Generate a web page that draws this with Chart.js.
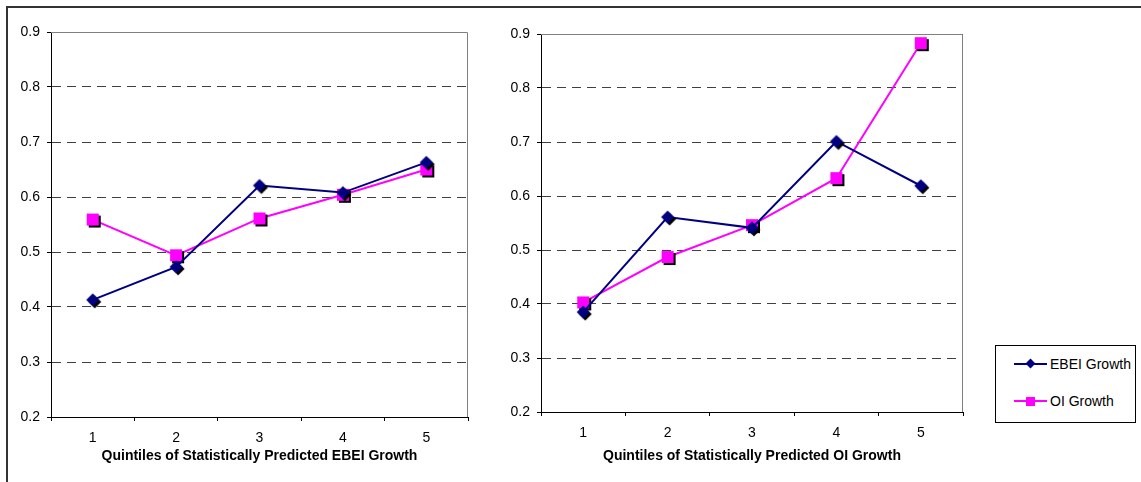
<!DOCTYPE html>
<html>
<head>
<meta charset="utf-8">
<script src="https://cdn.jsdelivr.net/npm/chart.js@4.4.1/dist/chart.umd.min.js"></script>
<style>
  html, body { margin: 0; padding: 0; background: #fff; }
  #wrap { position: relative; width: 1141px; height: 482px; overflow: hidden; font-family: "Liberation Sans", Arial, sans-serif; }
  #frame { position: absolute; left: 6px; top: 6px; width: 1200px; height: 600px; border-top: 2px solid #333; border-left: 2px solid #333; }
  #left { position: absolute; left: 0; top: 0; }
  #right { position: absolute; left: 480px; top: 0; }
  #legend { position: absolute; left: 995px; top: 345px; width: 141px; height: 78px; border: 1px solid #000; box-sizing: border-box; background: #fff; font-size: 14px; color: #000; }
  .item { position: absolute; left: 18px; width: 120px; height: 16px; }
  .line { position: absolute; left: 0; top: 7px; width: 33px; height: 2px; }
  .mk { position: absolute; }
  .txt { position: absolute; left: 36px; top: 0; line-height: 16px; white-space: nowrap; }
</style>
</head>
<body>
<div id="wrap">
  <div id="frame"></div>
  <canvas id="left" width="480" height="482"></canvas>
  <canvas id="right" width="500" height="482"></canvas>
  <div id="legend"></div>
</div>
<script>
// data
var quintiles = ['1', '2', '3', '4', '5'];
var seriesNames = ['EBEI Growth', 'OI Growth'];
// left panel: quintiles of predicted EBEI growth
var ebeiPanelEbei = [0.413, 0.473, 0.621, 0.608, 0.663];
var ebeiPanelOi = [0.559, 0.494, 0.561, 0.604, 0.650];
// right panel: quintiles of predicted OI growth
var oiPanelEbei = [0.385, 0.561, 0.541, 0.701, 0.619];
var oiPanelOi = [0.403, 0.487, 0.546, 0.633, 0.883];
var yMin = 0.2, yMax = 0.9, yStep = 0.1;

var navy = '#000080';
var magenta = '#FF00FF';

Chart.defaults.font.family = '"Liberation Sans", Arial, sans-serif';
Chart.defaults.color = '#000';

// marker with a black drop shadow, drawn once into a small canvas
function marker(shape, color) {
    var c = document.createElement('canvas');
    c.width = 20; c.height = 20;
    var g = c.getContext('2d');
    function draw(cx, cy, fill) {
        g.fillStyle = fill;
        if (shape === 'square') {
            g.fillRect(cx - 6, cy - 6, 12, 12);
        } else {
            g.beginPath();
            g.moveTo(cx, cy - 6.5);
            g.lineTo(cx + 6.5, cy);
            g.lineTo(cx, cy + 6.5);
            g.lineTo(cx - 6.5, cy);
            g.closePath();
            g.fill();
        }
    }
    draw(12, 12, '#000');
    draw(10, 10, color);
    return c;
}
var diamondImg = marker('diamond', navy);
var squareImg = marker('square', magenta);

var plotFrame = {
    id: 'plotFrame',
    beforeDatasetsDraw: function(chart) {
        var a = chart.chartArea, ctx = chart.ctx;
        var t = Math.round(a.top) + 0.5, r = Math.round(a.right) - 0.5;
        ctx.save();
        ctx.strokeStyle = '#808080';
        ctx.lineWidth = 1;
        ctx.beginPath();
        ctx.moveTo(a.left, t);
        ctx.lineTo(r, t);
        ctx.lineTo(r, a.bottom);
        ctx.stroke();
        ctx.restore();
    }
};

function makeChart(id, ebei, oi, title, g) {
    return new Chart(document.getElementById(id).getContext('2d'), {
        type: 'line',
        data: {
            labels: quintiles,
            datasets: [{
                label: seriesNames[0],
                data: ebei,
                borderColor: navy,
                backgroundColor: navy,
                borderWidth: 2,
                pointStyle: diamondImg,
                pointRadius: 6,
                tension: 0,
                clip: false
            }, {
                label: seriesNames[1],
                data: oi,
                borderColor: magenta,
                backgroundColor: magenta,
                borderWidth: 2,
                pointStyle: squareImg,
                pointRadius: 6,
                tension: 0,
                clip: false
            }]
        },
        options: {
            responsive: false,
            animation: false,
            events: [],
            layout: { padding: { top: g.top, right: g.right, left: 0, bottom: 0 } },
            plugins: { legend: { display: false }, tooltip: { enabled: false } },
            scales: {
                x: {
                    offset: true,
                    grid: { display: true, drawOnChartArea: false, drawTicks: true, tickLength: 4, offset: true, color: '#000', tickColor: '#000' },
                    border: { color: '#000', width: 1 },
                    ticks: { padding: 9, font: { size: 14 }, color: '#000', maxRotation: 0, autoSkip: false },
                    title: { display: true, text: title, font: { size: 14, weight: 'bold' }, color: '#000', padding: { top: 0, bottom: 17 } },
                    afterFit: function(s) { s.height = g.axisH; }
                },
                y: {
                    min: yMin,
                    max: yMax,
                    ticks: { stepSize: yStep, padding: 7, font: { size: 14 }, color: '#000', callback: function(v) { return v.toFixed(1); } },
                    grid: {
                        color: function(c) {
                            if (!c.tick) return g.grid;
                            var v = c.tick.value;
                            if (Math.abs(v - yMin) < 1e-6) return 'rgba(0,0,0,0)';
                            if (g.hideTop && Math.abs(v - yMax) < 1e-6) return 'rgba(0,0,0,0)';
                            return g.grid;
                        },
                        tickColor: '#000',
                        tickLength: 4
                    },
                    border: { color: '#000', width: 1, dash: [9, 6] },
                    afterFit: function(s) { s.width = g.yW; }
                }
            }
        },
        plugins: [plotFrame]
    });
}

makeChart('left', ebeiPanelEbei, ebeiPanelOi, 'Quintiles of Statistically Predicted EBEI Growth',
    { top: 32, right: 12, yW: 51, axisH: 65, grid: '#404040', hideTop: true });
var rightChart = makeChart('right', oiPanelEbei, oiPanelOi, 'Quintiles of Statistically Predicted OI Growth',
    { top: 34, right: 17, yW: 61, axisH: 70, grid: '#404040', hideTop: false });

// shared legend, built from the right chart's datasets
var legend = document.getElementById('legend');
rightChart.data.datasets.forEach(function(ds, i) {
    var item = document.createElement('div');
    item.className = 'item';
    item.style.top = (10 + i * 37) + 'px';
    var line = document.createElement('div');
    line.className = 'line';
    line.style.background = ds.borderColor;
    item.appendChild(line);
    var mk = document.createElement('div');
    mk.className = 'mk';
    mk.style.background = ds.borderColor;
    if (i === 0) {
        mk.style.left = '13px'; mk.style.top = '4px'; mk.style.width = '7px'; mk.style.height = '7px';
        mk.style.transform = 'rotate(45deg)';
    } else {
        mk.style.left = '12px'; mk.style.top = '4px'; mk.style.width = '9px'; mk.style.height = '9px';
    }
    item.appendChild(mk);
    var txt = document.createElement('span');
    txt.className = 'txt';
    txt.textContent = ds.label;
    item.appendChild(txt);
    legend.appendChild(item);
});
</script>
</body>
</html>
